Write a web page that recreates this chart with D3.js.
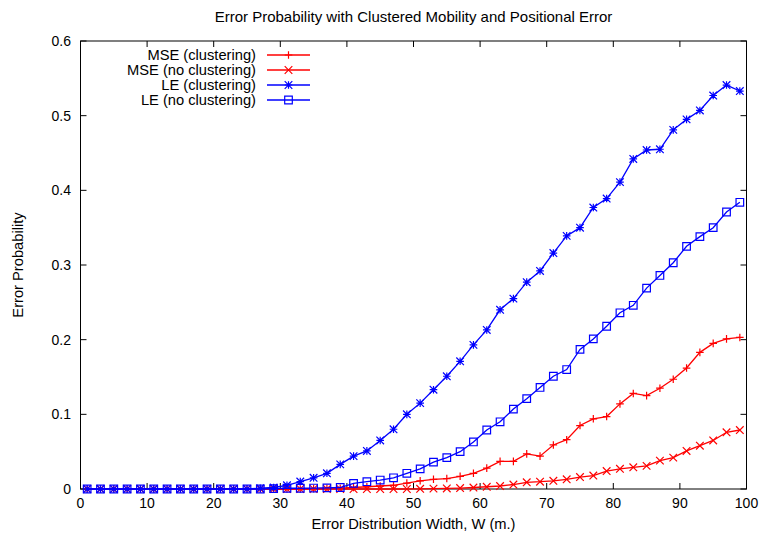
<!DOCTYPE html>
<html>
<head>
<meta charset="utf-8">
<script src="https://cdn.jsdelivr.net/npm/d3@7"></script>
<style>
  body { margin: 0; background: #fff; }
  svg { display: block; font-family: "Liberation Sans", Arial, sans-serif; }
</style>
</head>
<body>
<script>
// x positions: 1, 3, ..., 99
const widths = d3.range(1, 100, 2);

const mseClustering = [
  0, 0, 0, 0, 0, 0, 0, 0, 0, 0,
  0, 0, 0, 0, 0, 0, 0, 0.0005, 0.001, 0.001,
  0.002, 0.003, 0.004, 0.005, 0.008, 0.011, 0.013, 0.014, 0.017, 0.021,
  0.028, 0.037, 0.037, 0.047, 0.044, 0.059, 0.066, 0.085, 0.094, 0.097,
  0.114, 0.128, 0.125, 0.135, 0.147, 0.162, 0.183, 0.195, 0.201, 0.203
];
const mseNoClustering = [
  0, 0, 0, 0, 0, 0, 0, 0, 0, 0,
  0, 0, 0, 0, 0, 0, 0, 0, 0, 0,
  0, 0, 0, 0, 0, 0.0003, 0.0005, 0.0008, 0.0013, 0.002,
  0.003, 0.004, 0.006, 0.009, 0.0098, 0.011, 0.013, 0.016, 0.018, 0.024,
  0.027, 0.029, 0.031, 0.038, 0.042, 0.051, 0.058, 0.065, 0.076, 0.079
];
const leClustering = [
  0, 0, 0, 0, 0, 0, 0, 0, 0, 0,
  0, 0, 0, 0.001, 0.002, 0.005, 0.010, 0.015, 0.021, 0.033,
  0.044, 0.051, 0.065, 0.080, 0.100, 0.115, 0.133, 0.151, 0.171, 0.193,
  0.213, 0.240, 0.255, 0.277, 0.292, 0.316, 0.339, 0.350, 0.377, 0.389,
  0.411, 0.442, 0.454, 0.455, 0.481, 0.495, 0.507, 0.527, 0.541, 0.533
];
const leNoClustering = [
  0, 0, 0, 0, 0, 0, 0, 0, 0, 0,
  0, 0, 0, 0, 0.0005, 0.001, 0.001, 0.0013, 0.0015, 0.002,
  0.0076, 0.0098, 0.012, 0.015, 0.021, 0.027, 0.036, 0.042, 0.050, 0.063,
  0.079, 0.090, 0.107, 0.121, 0.136, 0.151, 0.160, 0.187, 0.201, 0.218,
  0.236, 0.246, 0.269, 0.286, 0.303, 0.325, 0.338, 0.350, 0.371, 0.384
];

const seriesNames = ["MSE (clustering)", "MSE (no clustering)", "LE (clustering)", "LE (no clustering)"];
const seriesColors = ["#ff0000", "#ff0000", "#0000ff", "#0000ff"];
const seriesMarkers = ["plus", "cross", "star", "box"];
const xTicks = d3.range(0, 101, 10);
const yTicks = [0, 0.1, 0.2, 0.3, 0.4, 0.5, 0.6];

const W = 759, H = 533;
const plotLeft = 80.5, plotRight = 746.5, plotTop = 41, plotBottom = 489;

const svg = d3.select("body").append("svg")
  .attr("width", W)
  .attr("height", H);

const x = d3.scaleLinear().domain([0, 100]).range([plotLeft, plotRight]);
const y = d3.scaleLinear().domain([0, 0.6]).range([plotBottom, plotTop]);

// ticks on all four sides, pointing inwards
const tickLen = 6;
const tg = svg.append("g").attr("stroke", "#000").attr("stroke-width", 1);
xTicks.forEach(t => {
  tg.append("line").attr("x1", x(t)).attr("x2", x(t)).attr("y1", plotBottom).attr("y2", plotBottom - tickLen);
  tg.append("line").attr("x1", x(t)).attr("x2", x(t)).attr("y1", plotTop).attr("y2", plotTop + tickLen);
});
yTicks.forEach(t => {
  tg.append("line").attr("x1", plotLeft).attr("x2", plotLeft + tickLen).attr("y1", y(t)).attr("y2", y(t));
  tg.append("line").attr("x1", plotRight).attr("x2", plotRight - tickLen).attr("y1", y(t)).attr("y2", y(t));
});

svg.append("rect")
  .attr("x", plotLeft).attr("y", plotTop)
  .attr("width", plotRight - plotLeft).attr("height", plotBottom - plotTop)
  .attr("fill", "none").attr("stroke", "#000").attr("stroke-width", 1);

svg.append("g").selectAll("text")
  .data(xTicks).join("text")
  .attr("x", d => x(d)).attr("y", 508)
  .attr("text-anchor", "middle")
  .attr("font-size", 14)
  .text(d => d);

svg.append("g").selectAll("text")
  .data(yTicks).join("text")
  .attr("x", 71).attr("y", d => y(d) + 5)
  .attr("text-anchor", "end")
  .attr("font-size", 14)
  .text(d => d === 0 ? "0" : d.toFixed(1));

svg.append("text")
  .attr("x", 413.5).attr("y", 22)
  .attr("text-anchor", "middle")
  .attr("font-size", 15)
  .text("Error Probability with Clustered Mobility and Positional Error");

svg.append("text")
  .attr("x", 413.5).attr("y", 529)
  .attr("text-anchor", "middle")
  .attr("font-size", 14.7)
  .text("Error Distribution Width, W (m.)");

svg.append("text")
  .attr("transform", "translate(23,265) rotate(-90)")
  .attr("text-anchor", "middle")
  .attr("font-size", 14.7)
  .text("Error Probability");

// gnuplot-ish point symbols
const drawMarker = (g, type, cx, cy, color) => {
  const s = 3.8;
  const p = g.append("path")
    .attr("fill", "none")
    .attr("stroke", color)
    .attr("stroke-width", 1.2);
  if (type === "plus") {
    p.attr("d", `M${cx - s},${cy}H${cx + s}M${cx},${cy - s}V${cy + s}`);
  } else if (type === "cross") {
    p.attr("d", `M${cx - s},${cy - s}L${cx + s},${cy + s}M${cx - s},${cy + s}L${cx + s},${cy - s}`);
  } else if (type === "star") {
    p.attr("d", `M${cx - s},${cy}H${cx + s}M${cx},${cy - s}V${cy + s}M${cx - s},${cy - s}L${cx + s},${cy + s}M${cx - s},${cy + s}L${cx + s},${cy - s}`);
  } else {
    p.attr("d", `M${cx - s},${cy - s}H${cx + s}V${cy + s}H${cx - s}Z`);
  }
};

const allSeries = [mseClustering, mseNoClustering, leClustering, leNoClustering];
const line = d3.line().x((d, i) => x(widths[i])).y(d => y(d));

allSeries.forEach((vals, k) => {
  const g = svg.append("g");
  g.append("path")
    .datum(vals)
    .attr("d", line)
    .attr("fill", "none")
    .attr("stroke", seriesColors[k])
    .attr("stroke-width", 1.3);
  vals.forEach((v, i) => drawMarker(g, seriesMarkers[k], x(widths[i]), y(v), seriesColors[k]));
});

// legend
const legend = svg.append("g");
seriesNames.forEach((name, k) => {
  const ly = 55 + k * 15;
  legend.append("text")
    .attr("x", 256).attr("y", ly + 5)
    .attr("text-anchor", "end")
    .attr("font-size", 14.7)
    .text(name);
  legend.append("line")
    .attr("x1", 267).attr("x2", 310)
    .attr("y1", ly).attr("y2", ly)
    .attr("stroke", seriesColors[k]).attr("stroke-width", 1.3);
  drawMarker(legend, seriesMarkers[k], 288.5, ly, seriesColors[k]);
});
</script>
</body>
</html>
